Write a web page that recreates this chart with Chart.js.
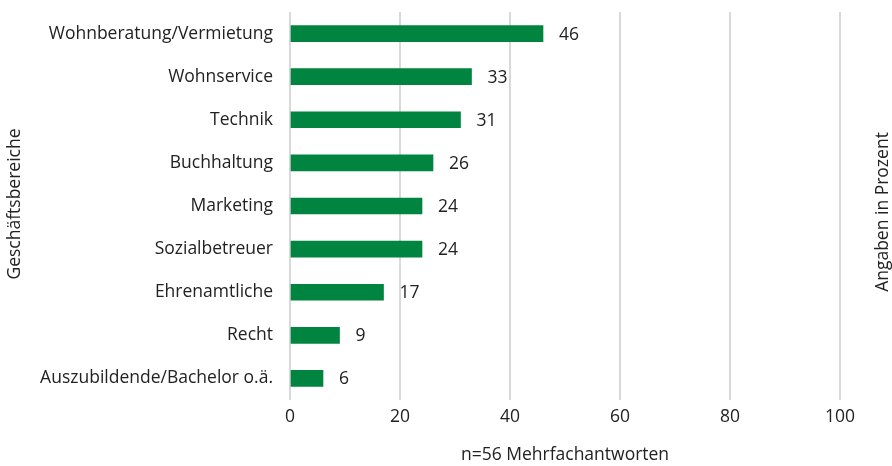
<!DOCTYPE html>
<html>
<head>
<meta charset="utf-8">
<script src="https://cdn.jsdelivr.net/npm/chart.js@4"></script>
<style>
    html, body { margin: 0; padding: 0; background: #fff; }
    #wrap { width: 892px; height: 466px; }
</style>
</head>
<body>
<div id="wrap"><canvas id="chart" width="892" height="466"></canvas></div>
<script>
const categories = [
    'Wohnberatung/Vermietung',
    'Wohnservice',
    'Technik',
    'Buchhaltung',
    'Marketing',
    'Sozialbetreuer',
    'Ehrenamtliche',
    'Recht',
    'Auszubildende/Bachelor o.ä.'
];
const values = [46, 33, 31, 26, 24, 24, 17, 9, 6];
const xTicks = [0, 20, 40, 60, 80, 100];

const green = '#00843f';
const textColor = '#222222';
const fontFamily = "'Open Sans', 'Noto Sans', sans-serif";
const fontSize = 17.5;

// Wert rechts neben jedem Balken, dazu die beiden senkrechten Achsentitel
const extraText = {
    id: 'extraText',
    afterDatasetsDraw(chart) {
        const ctx = chart.ctx;
        const meta = chart.getDatasetMeta(0);
        ctx.save();
        ctx.font = fontSize + 'px ' + fontFamily;
        ctx.fillStyle = textColor;
        ctx.textAlign = 'left';
        ctx.textBaseline = 'middle';
        meta.data.forEach((bar, i) => {
            ctx.fillText(values[i], bar.x + 16, bar.y + 1);
        });

        ctx.textAlign = 'center';
        const titles = [['Geschäftsbereiche', 15, 204], ['Angaben in Prozent', 883, 212]];
        titles.forEach(([text, x, y]) => {
            ctx.save();
            ctx.translate(x, y);
            ctx.rotate(-Math.PI / 2);
            ctx.fillText(text, 0, 0);
            ctx.restore();
        });
        ctx.restore();
    }
};

new Chart(document.getElementById('chart'), {
    type: 'bar',
    data: {
        labels: categories,
        datasets: [{
            data: values,
            backgroundColor: green,
            barThickness: 16
        }]
    },
    options: {
        indexAxis: 'y',
        responsive: false,
        animation: false,
        layout: { padding: { top: 12, left: 0, right: 52, bottom: 0 } },
        plugins: {
            legend: { display: false },
            tooltip: { enabled: false }
        },
        scales: {
            x: {
                min: 0,
                max: 100,
                afterBuildTicks: scale => { scale.ticks = xTicks.map(v => ({ value: v })); },
                afterFit: scale => {
                    scale.height = 66;
                    scale.paddingLeft = 0;
                    scale.paddingRight = 0;
                },
                grid: { color: '#d9d9d9', lineWidth: 2, drawTicks: false },
                border: { display: false },
                ticks: {
                    color: textColor,
                    padding: 7,
                    font: { family: fontFamily, size: fontSize }
                },
                title: {
                    display: true,
                    text: 'n=56 Mehrfachantworten',
                    color: textColor,
                    padding: { top: 13, bottom: 0 },
                    font: { family: fontFamily, size: fontSize }
                }
            },
            y: {
                afterFit: scale => {
                    scale.width = 290;
                    scale.paddingTop = 0;
                    scale.paddingBottom = 0;
                },
                grid: { display: false, drawTicks: false },
                border: { display: false },
                ticks: {
                    color: textColor,
                    padding: 17,
                    font: { family: fontFamily, size: fontSize }
                }
            }
        }
    },
    plugins: [extraText]
});
</script>
</body>
</html>
